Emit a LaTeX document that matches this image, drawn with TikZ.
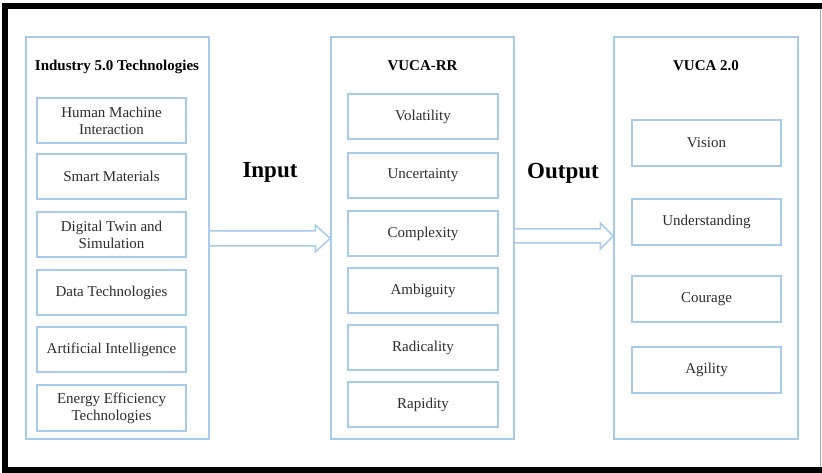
\documentclass[tikz,border=0pt]{standalone}
\usepackage{fontspec}
\setmainfont{Liberation Serif}
\usetikzlibrary{calc}
\definecolor{lblue}{RGB}{168,202,236}
\definecolor{txtgray}{RGB}{45,45,45}
\tikzset{
  panel/.style={draw=lblue, line width=1.5bp, fill=white, inner sep=0pt},
  itembox/.style={draw=lblue, line width=1.5bp, fill=white, inner sep=0pt, align=center,
    text=txtgray, font=\fontsize{15bp}{17bp}\selectfont},
  ptitle/.style={font=\fontsize{15bp}{17bp}\selectfont\bfseries, anchor=base, inner sep=0pt},
  biglabel/.style={font=\fontsize{23bp}{26bp}\selectfont\bfseries, anchor=base, inner sep=0pt},
  hollowarrow/.style={draw=lblue, line width=1.5bp, fill=white, line join=miter},
}
\newcommand{\boxat}[6]{% name, x1, y1, x2, y2, text
  \node[itembox, minimum width={(#4-#2)*1bp}, minimum height={(#5-#3)*1bp}] (#1) at ({(#2+#4)/2},{(#3+#5)/2+1}) {#6};}
\begin{document}
\begin{tikzpicture}[x=1bp, y=-1bp]
\useasboundingbox (0,0) rectangle (822,473);
\fill[white] (0,0) rectangle (822,473);
% outer frame
\draw[black!35, line width=0.8bp] (820,6) -- (820,470);
\draw[black, line width=6bp] (822,6) -- (5,6) -- (5,470) -- (822,470);
% panels
\node[panel, minimum width=183bp, minimum height=402bp] (p1) at (117.5,238) {};
\node[panel, minimum width=183bp, minimum height=402bp] (p2) at (422.5,238) {};
\node[panel, minimum width=184bp, minimum height=402bp] (p3) at (706,238) {};
% titles
\node[ptitle] (t1) at (117,70.5) {Industry 5.0 Technologies};
\node[ptitle] (t2) at (422.5,70.5) {VUCA-RR};
\node[ptitle] (t3) at (706,70.5) {VUCA 2.0};
% panel 1 boxes
\boxat{a1}{37}{97}{186}{142}{Human Machine\\Interaction}
\boxat{a2}{37}{153}{186}{198}{Smart Materials}
\boxat{a3}{37}{211}{186}{256}{Digital Twin and\\Simulation}
\boxat{a4}{37}{269}{186}{314}{Data Technologies}
\boxat{a5}{37}{326}{186}{371}{Artificial Intelligence}
\boxat{a6}{37}{384}{186}{430}{Energy Efficiency\\Technologies}
% panel 2 boxes
\boxat{b1}{348}{93}{498}{138}{Volatility}
\boxat{b2}{348}{152}{498}{197}{Uncertainty}
\boxat{b3}{348}{210}{498}{255}{Complexity}
\boxat{b4}{348}{267}{498}{312}{Ambiguity}
\boxat{b5}{348}{324}{498}{369}{Radicality}
\boxat{b6}{348}{381}{498}{426}{Rapidity}
% panel 3 boxes
\boxat{c1}{632}{119}{781}{165}{Vision}
\boxat{c2}{632}{198}{781}{244}{Understanding}
\boxat{c3}{632}{275}{781}{321}{Courage}
\boxat{c4}{632}{346}{781}{392}{Agility}
% labels
\node[biglabel] (lin) at (270,178) {Input};
\node[biglabel] (lout) at (563,178.5) {Output};
% hollow arrows between panels
\coordinate (i1) at (p1.east |- 0,238.5);
\coordinate (i2) at (p2.west |- 0,238.5);
\draw[hollowarrow] ($(i1)+(0,-7.5)$) -- ($(i2)+(-15,-7.5)$) -- ($(i2)+(-15,-13.5)$) -- (i2)
  -- ($(i2)+(-15,13.5)$) -- ($(i2)+(-15,7.5)$) -- ($(i1)+(0,7.5)$);
\coordinate (o1) at (p2.east |- 0,236);
\coordinate (o2) at (p3.west |- 0,236);
\draw[hollowarrow] ($(o1)+(0,-7)$) -- ($(o2)+(-13,-7)$) -- ($(o2)+(-13,-13)$) -- (o2)
  -- ($(o2)+(-13,13)$) -- ($(o2)+(-13,7)$) -- ($(o1)+(0,7)$);
\end{tikzpicture}
\end{document}
